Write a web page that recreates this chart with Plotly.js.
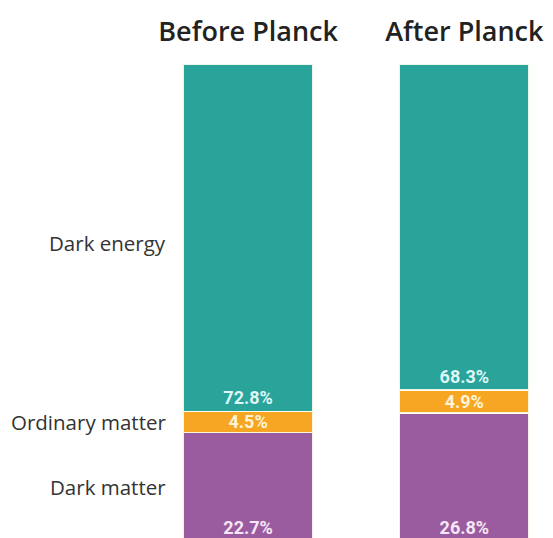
<!DOCTYPE html>
<html><head><meta charset="utf-8">
<script src="https://cdn.plot.ly/plotly-3.0.1.min.js"></script>
<style>html,body{margin:0;padding:0;background:#fff}#c{width:553px;height:538px}</style>
</head><body><div id="c"></div>
<script>
const periods = ["Before Planck", "After Planck"];
const components = ["Dark matter", "Ordinary matter", "Dark energy"];
const darkMatter = [22.7, 26.8];
const ordinaryMatter = [4.5, 4.9];
const darkEnergy = [72.8, 68.3];
const series = [darkMatter, ordinaryMatter, darkEnergy];
const colors = ["#9a5c9e", "#f6a623", "#2aa39b"];
const textColors = ["#f7e6f7", "#fff4d8", "#dff7f5"];
const anchors = ["start", "middle", "start"];

const traces = series.map((vals, i) => ({
  type: "bar", x: [0, 1], y: vals, name: components[i],
  marker: {color: colors[i], line: {color: "rgba(255,255,240,0.9)", width: 1.5}},
  width: 0.6,
  text: vals.map(v => v.toFixed(1) + "%"),
  textposition: "inside", insidetextanchor: anchors[i], constraintext: "none",
  textfont: {family: "Roboto, sans-serif", size: 18, weight: 700, color: textColors[i]},
  hoverinfo: "skip"
}));

// label positions: midpoint of each segment in the first bar
let cum = 0;
const annotations = series.map((vals, i) => {
  const mid = cum + vals[0] / 2; cum += vals[0];
  return {x: -0.37, xref: "x", y: mid - (i === 2 ? 1.2 : 0), yref: "y", xanchor: "right", yanchor: "middle",
    text: components[i], showarrow: false,
    font: {family: "Open Sans, sans-serif", size: 20.5, color: "#333"}};
});

Plotly.newPlot("c", traces, {
  width: 553, height: 538, barmode: "stack", showlegend: false,
  margin: {l: 140, r: 13, t: 64, b: 0},
  paper_bgcolor: "#fff", plot_bgcolor: "#fff",
  xaxis: {range: [-0.5, 1.35], side: "top", tickvals: [0, 1], ticktext: periods,
    showgrid: false, zeroline: false, showline: false, ticks: "", ticklabelstandoff: 17,
    tickfont: {family: "Open Sans, sans-serif", size: 27, weight: 600, color: "#222"}},
  yaxis: {range: [0.63, 100], visible: false, showgrid: false, zeroline: false},
  annotations: annotations
}, {staticPlot: true});
</script></body></html>
